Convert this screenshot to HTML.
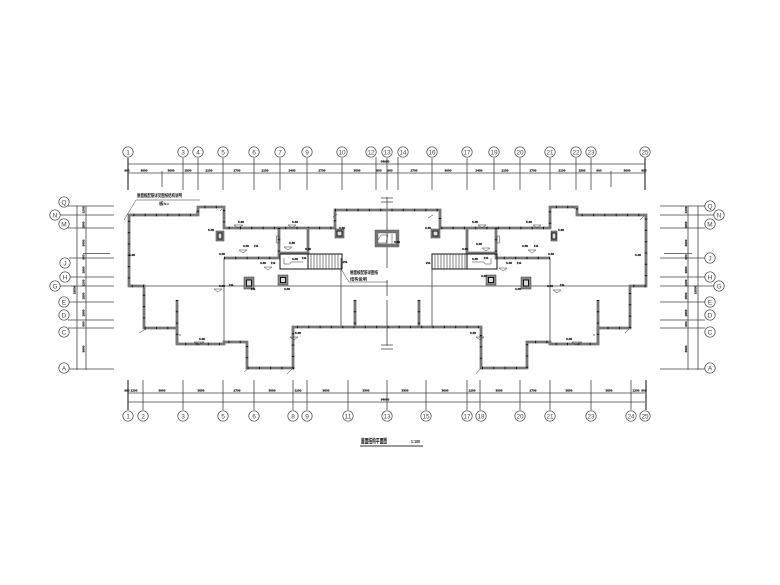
<!DOCTYPE html>
<html><head><meta charset="utf-8"><style>
html,body{margin:0;padding:0;background:#fff}
svg{display:block}
text{font-family:"Liberation Sans","Noto Sans CJK SC",sans-serif;fill:#111}
.d text{font-size:3.1px;font-weight:bold;text-anchor:middle;stroke:#111;stroke-width:.18}
.b circle{fill:#fff;stroke:#444;stroke-width:.7}
.b text{font-size:6.5px;text-anchor:middle;fill:#444}
.t{stroke:#444;stroke-width:.8;fill:none}
.w{stroke:#777;stroke-width:2.8;fill:none}
.x{stroke:#111;stroke-width:2.4;fill:none;stroke-dasharray:1 10.3}
.k{stroke:#111;stroke-width:1;fill:none}
.l{stroke:#333;stroke-width:.5;fill:none}
.s{fill:#888;stroke:#333;stroke-width:.5}
</style></head><body>
<svg width="780" height="585" viewBox="0 0 780 585" xmlns="http://www.w3.org/2000/svg">
<rect width="780" height="585" fill="#fff"/>

<!-- dimension lines -->
<path class="t" d="M128 164H645M128 173H645M128 393H645M128 402H645M77 206V370M86 206V370M688 206V370M698 206V370"/>
<path class="t" d="M183 158V190M198 158V190M223 158V190M254 158V190M280 158V190M307 158V190M342 158V190M376 157V190M387 158V190M398 157V190M432 158V190M467 158V190M494 158V190M520 158V190M550 158V190M576 158V190M591 158V190M162 171V187M611 171V187"/>
<path d="M128 158V190M645 158V190" stroke="#444" stroke-width="1.3"/>
<path class="t" d="M143 380V410M183 380V410M223 380V410M254 380V410M293 380V410M307 380V410M348 380V410M387 380V410M426 380V410M467 380V410M480 380V410M520 380V410M550 380V410M591 380V410M631 380V410"/>
<path d="M128 380V410M646 380V410" stroke="#444" stroke-width="1.3"/>
<path class="t" d="M68 206H114M60 215H114M68 228H114M83 253.500H110M69 258H114M69 277H114M60 286H114M69 302H114M68 320H114M68 328H114M69 369H114"/>
<path class="t" d="M660 206H705M660 215H714M660 228H705M664 253.500H692M660 258H705M660 277H705M660 286H714M660 302H705M660 320H705M660 328H705M660 369H705"/>

<g class="b">
<circle cx="128" cy="152" r="5.200"/><text x="128" y="154.300">1</text>
<circle cx="183" cy="152" r="5.200"/><text x="183" y="154.300">3</text>
<circle cx="198" cy="152" r="5.200"/><text x="198" y="154.300">4</text>
<circle cx="223" cy="152" r="5.200"/><text x="223" y="154.300">5</text>
<circle cx="254" cy="152" r="5.200"/><text x="254" y="154.300">6</text>
<circle cx="280" cy="152" r="5.200"/><text x="280" y="154.300">7</text>
<circle cx="307" cy="152" r="5.200"/><text x="307" y="154.300">9</text>
<circle cx="342" cy="152" r="5.200"/><text x="342" y="154.300" textLength="7" lengthAdjust="spacingAndGlyphs">10</text>
<circle cx="371" cy="152" r="5.200"/><text x="371" y="154.300" textLength="7" lengthAdjust="spacingAndGlyphs">12</text>
<circle cx="387" cy="152" r="5.200"/><text x="387" y="154.300" textLength="7" lengthAdjust="spacingAndGlyphs">13</text>
<circle cx="403" cy="152" r="5.200"/><text x="403" y="154.300" textLength="7" lengthAdjust="spacingAndGlyphs">14</text>
<circle cx="432" cy="152" r="5.200"/><text x="432" y="154.300" textLength="7" lengthAdjust="spacingAndGlyphs">16</text>
<circle cx="467" cy="152" r="5.200"/><text x="467" y="154.300" textLength="7" lengthAdjust="spacingAndGlyphs">17</text>
<circle cx="494" cy="152" r="5.200"/><text x="494" y="154.300" textLength="7" lengthAdjust="spacingAndGlyphs">19</text>
<circle cx="520" cy="152" r="5.200"/><text x="520" y="154.300" textLength="7" lengthAdjust="spacingAndGlyphs">20</text>
<circle cx="550" cy="152" r="5.200"/><text x="550" y="154.300" textLength="7" lengthAdjust="spacingAndGlyphs">21</text>
<circle cx="576" cy="152" r="5.200"/><text x="576" y="154.300" textLength="7" lengthAdjust="spacingAndGlyphs">22</text>
<circle cx="591" cy="152" r="5.200"/><text x="591" y="154.300" textLength="7" lengthAdjust="spacingAndGlyphs">23</text>
<circle cx="645" cy="152" r="5.200"/><text x="645" y="154.300" textLength="7" lengthAdjust="spacingAndGlyphs">25</text>
<circle cx="128" cy="416" r="5.200"/><text x="128" y="418.300">1</text>
<circle cx="143" cy="416" r="5.200"/><text x="143" y="418.300">2</text>
<circle cx="183" cy="416" r="5.200"/><text x="183" y="418.300">3</text>
<circle cx="223" cy="416" r="5.200"/><text x="223" y="418.300">5</text>
<circle cx="254" cy="416" r="5.200"/><text x="254" y="418.300">6</text>
<circle cx="293" cy="416" r="5.200"/><text x="293" y="418.300">8</text>
<circle cx="307" cy="416" r="5.200"/><text x="307" y="418.300">9</text>
<circle cx="348" cy="416" r="5.200"/><text x="348" y="418.300" textLength="7" lengthAdjust="spacingAndGlyphs">11</text>
<circle cx="387" cy="416" r="5.200"/><text x="387" y="418.300" textLength="7" lengthAdjust="spacingAndGlyphs">13</text>
<circle cx="426" cy="416" r="5.200"/><text x="426" y="418.300" textLength="7" lengthAdjust="spacingAndGlyphs">15</text>
<circle cx="467" cy="416" r="5.200"/><text x="467" y="418.300" textLength="7" lengthAdjust="spacingAndGlyphs">17</text>
<circle cx="481" cy="416" r="5.200"/><text x="481" y="418.300" textLength="7" lengthAdjust="spacingAndGlyphs">18</text>
<circle cx="520" cy="416" r="5.200"/><text x="520" y="418.300" textLength="7" lengthAdjust="spacingAndGlyphs">20</text>
<circle cx="550" cy="416" r="5.200"/><text x="550" y="418.300" textLength="7" lengthAdjust="spacingAndGlyphs">21</text>
<circle cx="591" cy="416" r="5.200"/><text x="591" y="418.300" textLength="7" lengthAdjust="spacingAndGlyphs">23</text>
<circle cx="631" cy="416" r="5.200"/><text x="631" y="418.300" textLength="7" lengthAdjust="spacingAndGlyphs">24</text>
<circle cx="645" cy="416" r="5.200"/><text x="645" y="418.300" textLength="7" lengthAdjust="spacingAndGlyphs">25</text>
<circle cx="64" cy="202" r="5.200"/><text x="64" y="204.300">Q</text>
<circle cx="55" cy="215" r="5.200"/><text x="55" y="217.300">N</text>
<circle cx="64" cy="224" r="5.200"/><text x="64" y="226.300">M</text>
<circle cx="65" cy="263" r="5.200"/><text x="65" y="265.300">J</text>
<circle cx="65" cy="277" r="5.200"/><text x="65" y="279.300">H</text>
<circle cx="55" cy="286" r="5.200"/><text x="55" y="288.300">G</text>
<circle cx="64" cy="302" r="5.200"/><text x="64" y="304.300">E</text>
<circle cx="64" cy="315" r="5.200"/><text x="64" y="317.300">D</text>
<circle cx="64" cy="332" r="5.200"/><text x="64" y="334.300">C</text>
<circle cx="64" cy="368" r="5.200"/><text x="64" y="370.300">A</text>
<circle cx="710" cy="206" r="5.200"/><text x="710" y="208.300">Q</text>
<circle cx="719" cy="215" r="5.200"/><text x="719" y="217.300">N</text>
<circle cx="710" cy="224" r="5.200"/><text x="710" y="226.300">M</text>
<circle cx="710" cy="258" r="5.200"/><text x="710" y="260.300">J</text>
<circle cx="710" cy="277" r="5.200"/><text x="710" y="279.300">H</text>
<circle cx="719" cy="286" r="5.200"/><text x="719" y="288.300">G</text>
<circle cx="710" cy="302" r="5.200"/><text x="710" y="304.300">E</text>
<circle cx="710" cy="315" r="5.200"/><text x="710" y="317.300">D</text>
<circle cx="710" cy="332" r="5.200"/><text x="710" y="334.300">C</text>
<circle cx="710" cy="368" r="5.200"/><text x="710" y="370.300">A</text>
</g>

<g class="d">
<text x="385" y="162.500">54600</text>
<text x="127" y="171.500">900</text><text x="144" y="171.500">3600</text><text x="171" y="171.500">3600</text><text x="188" y="171.500">1500</text><text x="209" y="171.500">2100</text><text x="237" y="171.500">2700</text><text x="265" y="171.500">2100</text><text x="292" y="171.500">2400</text><text x="322" y="171.500">2700</text><text x="357" y="171.500">3000</text><text x="379" y="171.500">900</text><text x="390" y="171.500">900</text><text x="414" y="171.500">2700</text><text x="448" y="171.500">3000</text><text x="479" y="171.500">2400</text><text x="505" y="171.500">2100</text><text x="533" y="171.500">2700</text><text x="562" y="171.500">2100</text><text x="582" y="171.500">1500</text><text x="599" y="171.500">900</text><text x="627" y="171.500">3600</text><text x="644" y="171.500">900</text>
<text x="127" y="391.500">900</text><text x="134" y="391.500">1200</text><text x="162" y="391.500">3600</text><text x="201" y="391.500">3600</text><text x="237" y="391.500">2700</text><text x="272" y="391.500">3000</text><text x="298" y="391.500">1200</text><text x="326" y="391.500">3600</text><text x="366" y="391.500">3300</text><text x="405" y="391.500">3300</text><text x="445" y="391.500">3600</text><text x="472" y="391.500">1200</text><text x="499" y="391.500">3000</text><text x="533" y="391.500">2700</text><text x="569" y="391.500">3600</text><text x="609" y="391.500">3600</text><text x="636" y="391.500">1200</text><text x="644" y="391.500">900</text>
<text x="385" y="400.500">54600</text>
<text transform="translate(84.500 210) rotate(-90)">1200</text><text transform="translate(84.500 225) rotate(-90)">1800</text><text transform="translate(84.500 243) rotate(-90)">3600</text><text transform="translate(84.500 257) rotate(-90)">900</text><text transform="translate(84.500 270) rotate(-90)">1800</text><text transform="translate(84.500 283) rotate(-90)">1200</text><text transform="translate(84.500 296) rotate(-90)">1500</text><text transform="translate(84.500 313) rotate(-90)">1800</text><text transform="translate(84.500 324) rotate(-90)">900</text><text transform="translate(84.500 349) rotate(-90)">3900</text>
<text transform="translate(75.500 290) rotate(-90)">16500</text>
<text transform="translate(687 210) rotate(-90)">1200</text><text transform="translate(687 225) rotate(-90)">1800</text><text transform="translate(687 243) rotate(-90)">3600</text><text transform="translate(687 257) rotate(-90)">900</text><text transform="translate(687 270) rotate(-90)">1800</text><text transform="translate(687 283) rotate(-90)">1200</text><text transform="translate(687 296) rotate(-90)">1500</text><text transform="translate(687 313) rotate(-90)">1800</text><text transform="translate(687 324) rotate(-90)">900</text><text transform="translate(687 349) rotate(-90)">3900</text>
<text transform="translate(696.500 290) rotate(-90)">16500</text>
</g>

<!-- thin interior lines -->
<path d="M144 286H630M224 258V344M550 258V344M341 258V327M432 258V327" stroke="#444" stroke-width=".8" fill="none"/>
<path d="M387 197V268M387 280V296M387 300V346" stroke="#444" stroke-width=".8" fill="none"/>
<path d="M381 198H393M381 202H393M381 345H393M381 349H393" stroke="#444" stroke-width=".7"/>

<!-- walls -->
<path class="w" d="M144 286H129V215H198V207H224V228H335V210H440V228H550V207H577V215H646V286H630V328H598V344H550V342H527V368H481V327H293V368H247V342H224V344H177V328H144Z"/>
<path class="x" d="M144 286H129V215H198V207H224V228H335V210H440V228H550V207H577V215H646V286H630V328H598V344H550V342H527V368H481V327H293V368H247V342H224V344H177V328H144Z"/>
<path class="w" d="M177 300V344M598 300V344M355 300V327M419 300V327M224 258H279V228M308 228V253H280M550 258H496V228M467 228V253H496"/>
<path class="x" d="M177 300V344M598 300V344M355 300V327M419 300V327M224 258H279M550 258H496M279 228V258M496 228V258"/>

<!-- stairs and small rooms -->
<path class="k" d="M280 254H342V269H280ZM308 254V269M432 254H497V269H432ZM467 254V269"/>
<path d="M311 254V269M314 254V269M317 254V269M320 254V269M323 254V269M326 254V269M329 254V269M332 254V269M335 254V269M338 254V269M435 254V269M438 254V269M441 254V269M444 254V269M447 254V269M450 254V269M453 254V269M456 254V269M459 254V269M462 254V269M465 254V269" stroke="#333" stroke-width=".6"/>
<path class="l" d="M284 258V264H290L291 262H303M491 258V264H485L484 262H472"/>
<path class="l" d="M276.500 236H279V243H276.500ZM497 236H499.500V243H497Z" fill="#fff"/>

<!-- shafts -->
<g>
<rect class="s" x="244" y="277" width="10" height="12"/><rect x="246.500" y="280" width="5" height="6" fill="#ddd" stroke="#111" stroke-width="1"/>
<rect class="s" x="278" y="275" width="10" height="10"/><rect x="280.500" y="277.500" width="5" height="5" fill="#ddd" stroke="#111" stroke-width="1"/>
<rect class="s" x="486" y="275" width="10" height="10"/><rect x="488.500" y="277.500" width="5" height="5" fill="#ddd" stroke="#111" stroke-width="1"/>
<rect class="s" x="521" y="277" width="10" height="12"/><rect x="523.500" y="280" width="5" height="6" fill="#ddd" stroke="#111" stroke-width="1"/>
<rect class="s" x="335" y="229" width="9" height="9"/><rect x="337" y="231" width="5" height="5" fill="#ddd" stroke="#111" stroke-width="1"/>
<rect class="s" x="431" y="229" width="9" height="9"/><rect x="433" y="231" width="5" height="5" fill="#ddd" stroke="#111" stroke-width="1"/>
<rect class="s" x="216" y="231" width="8" height="10"/><rect x="218" y="233" width="4" height="6" fill="#ddd" stroke="#111" stroke-width="1"/>
<rect class="s" x="551" y="231" width="6" height="10"/><rect x="552" y="233" width="4" height="6" fill="#ddd" stroke="#111" stroke-width="1"/>
<path d="M375 230H399V247H375ZM378 233V244H396V233Z" fill="#777" fill-rule="evenodd" stroke="#444" stroke-width=".4"/>
<path class="l" d="M378 240L381 235H388L386 243H378M392 234V244"/>
</g>

<!-- leaders -->
<path class="l" d="M124 220L136 200H200"/>
<path class="l" d="M341 269L349 282H388"/>
<path class="l" d="M198 210L196 213M222 209L220 211M337 214L333 217M433 215L428 218M575 209L572 206M644 216L640 220M146 329L139 333M249 368L244 372M293 368L287 374M481 368L476 374M629 329L625 333"/>

<!-- level triangles -->
<path class="l" d="M234 225H243L238 228ZM239 250H247L243 253ZM284 247H292L288 250ZM288 225H296L292 228ZM264 267H272L268 270ZM214 289H222L218 292ZM478 225H486L482 228ZM533 225H541L537 228ZM482 248H490L486 251ZM528 250H536L532 253ZM499 268H507L503 271ZM553 290H561L557 293ZM194 342H204L198 345ZM572 342H582L576 345ZM290 337H298L294 340ZM476 337H484L480 340Z"/>
<circle cx="180" cy="335" r=".6" fill="#111"/><circle cx="594" cy="335" r=".6" fill="#111"/>

<g class="d">
<text x="241" y="223">5.36</text><text x="246" y="247">3.36</text><text x="256" y="247">1%</text>
<text x="292" y="244">3.36</text><text x="295" y="223">5.36</text><text x="295" y="260">3.36</text><text x="304" y="259">1%</text>
<text x="263" y="264">3.36</text><text x="273" y="264">1%</text><text x="222" y="287">3.36</text><text x="231" y="286">1%</text>
<text x="253" y="290">1%</text><text x="287" y="290">3.36</text><text x="211" y="231">5.36</text><text x="222" y="255">3.36</text>
<text x="308" y="250">3.36</text><text x="342" y="229">3.36</text><text x="428" y="229">3.36</text><text x="397" y="243">3.36</text>
<text x="345" y="263">2%</text><text x="428" y="264">2%</text>
<text x="475" y="223">5.36</text><text x="529" y="223">5.36</text><text x="479" y="245">3.36</text><text x="525" y="247">3.36</text><text x="536" y="247">1%</text>
<text x="475" y="260">3.36</text><text x="486" y="259">1%</text><text x="465" y="250">3.36</text><text x="509" y="264">3.36</text><text x="519" y="264">1%</text>
<text x="484" y="277">3.36</text><text x="518" y="290">3.36</text><text x="551" y="255">3.36</text><text x="561" y="231">5.36</text>
<text x="638" y="256">5.36</text><text x="132" y="256">5.36</text><text x="550" y="287">3.36</text><text x="562" y="286">1%</text>
<text x="202" y="340">3.36</text><text x="569" y="340">3.36</text><text x="298" y="334">5.36</text><text x="473" y="334">5.36</text>
</g>

<!-- annotations -->
<text x="137" y="197" font-size="4.500" font-weight="bold" textLength="45" lengthAdjust="spacingAndGlyphs">屋面板配筋详见图纸结构说明</text>
<text x="159" y="205" font-size="4" font-weight="bold" textLength="10" lengthAdjust="spacingAndGlyphs">板h=</text>
<text x="350" y="274" font-size="4.500" font-weight="bold" textLength="28" lengthAdjust="spacingAndGlyphs">屋面板配筋详图纸</text>
<text x="350" y="280.500" font-size="4" font-weight="bold" textLength="17" lengthAdjust="spacingAndGlyphs">结构说明</text>

<!-- title -->
<text x="361" y="443" font-size="6.500" font-weight="bold" textLength="26" lengthAdjust="spacingAndGlyphs">屋面结构平面图</text>
<text x="411" y="443" font-size="4.500" font-weight="bold" textLength="9" lengthAdjust="spacingAndGlyphs">1:100</text>
<path d="M360 446H423" stroke="#333" stroke-width="1"/>
</svg>
</body></html>
